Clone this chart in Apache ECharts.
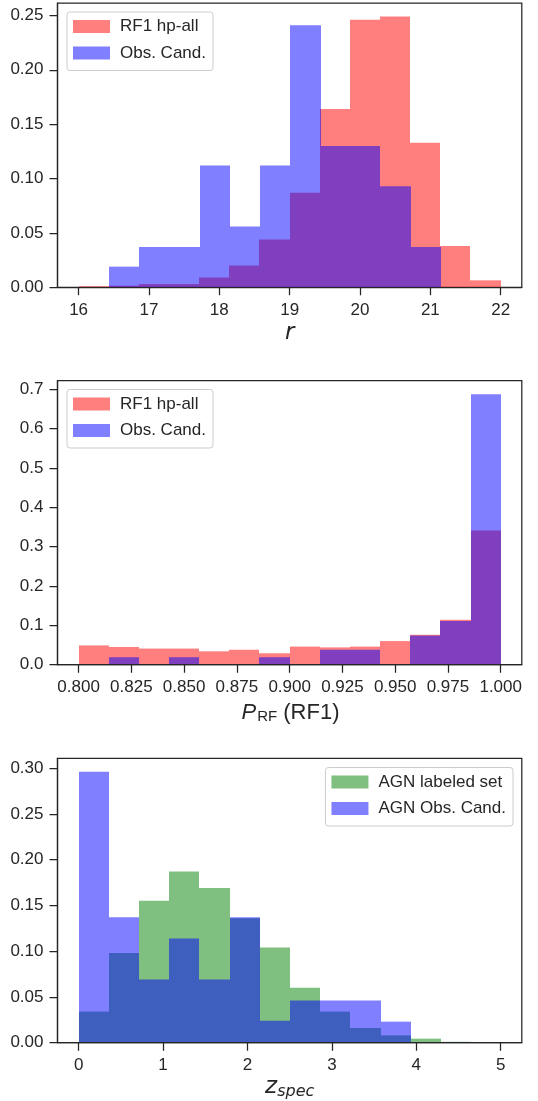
<!DOCTYPE html>
<html><head><meta charset="utf-8">
<script src="https://cdn.jsdelivr.net/npm/echarts@6/dist/echarts.min.js"></script>
<style>html,body{margin:0;padding:0;background:#fff}#c{width:538px;height:1101px}</style>
</head><body><div id="c"></div>
<script>
// ---------- Panel 1: r magnitude ----------
const rEdgesHp  = [16.00,16.43,16.86,17.29,17.71,18.14,18.57,19.00,19.43,19.86,20.29,20.71,21.14,21.57,22.00];
const rHp       = [0.001,0.0015,0.003,0.003,0.009,0.020,0.044,0.087,0.164,0.246,0.249,0.133,0.038,0.0064];
const rEdgesObs = [16.43,16.86,17.29,17.72,18.15,18.58,19.01,19.44,19.87,20.29,20.72,21.15];
const rObs      = [0.019,0.037,0.037,0.112,0.056,0.112,0.241,0.130,0.130,0.093,0.037];
const rTicksX = [16,17,18,19,20,21,22];
const rTicksY = [0,0.05,0.10,0.15,0.20,0.25];
const rRangeX = [15.7,22.3];
const rRangeY = [0,0.2614];

// ---------- Panel 2: P_RF ----------
const pEdgesHp  = [0.8000,0.8143,0.8286,0.8429,0.8571,0.8714,0.8857,0.9000,0.9143,0.9286,0.9429,0.9571,0.9714,0.9857,1.0000];
const pHp       = [0.049,0.045,0.041,0.041,0.034,0.038,0.029,0.046,0.044,0.046,0.060,0.076,0.114,0.341];
const pEdgesObs = [0.8143,0.8286,0.8429,0.8571,0.8714,0.8857,0.9000,0.9143,0.9286,0.9429,0.9571,0.9714,0.9857,1.0000];
const pObs      = [0.019,0,0.019,0,0,0.019,0,0.038,0.038,0,0.074,0.111,0.687];
const pTicksX = [0.800,0.825,0.850,0.875,0.900,0.925,0.950,0.975,1.000];
const pTicksY = [0,0.1,0.2,0.3,0.4,0.5,0.6,0.7];
const pRangeX = [0.79,1.01];
const pRangeY = [0,0.7213];

// ---------- Panel 3: z_spec ----------
const zEdgesLab = [0,0.358,0.715,1.073,1.431,1.788,2.146,2.504,2.862,3.219,3.577,3.935,4.292,4.650];
const zLab      = [0.034,0.098,0.155,0.187,0.169,0.136,0.104,0.060,0.034,0.016,0.008,0.0044,0.001];
const zEdgesObs = [0,0.358,0.715,1.073,1.431,1.788,2.146,2.504,2.862,3.219,3.577,3.935];
const zObs      = [0.296,0.137,0.069,0.114,0.069,0.137,0.024,0.046,0.046,0.046,0.023];
const zTicksX = [0,1,2,3,4,5];
const zTicksY = [0,0.05,0.10,0.15,0.20,0.25,0.30];
const zRangeX = [-0.25,5.25];
const zRangeY = [0,0.3108];

const INK = '#262626';
const FONT = "'Liberation Sans', Arial, sans-serif";
const RED = 'rgba(255,0,0,0.5)', BLUE = 'rgba(0,0,255,0.5)', GREEN = 'rgba(0,128,0,0.5)';

function hist(name, edges, values, color, gi) {
  const data = values.map((v, i) => [edges[i], edges[i + 1], v]);
  return {
    type: 'custom', name, xAxisIndex: gi, yAxisIndex: gi, z: 2,
    itemStyle: { color }, data, encode: { x: [0, 1], y: 2 },
    renderItem(params, api) {
      const a = api.coord([api.value(0), 0]);
      const b = api.coord([api.value(1), api.value(2)]);
      const x0 = Math.round(a[0]), x1 = Math.round(b[0]);
      return { type: 'rect', shape: { x: x0, y: b[1], width: x1 - x0, height: a[1] - b[1] },
               style: { fill: color } };
    }
  };
}
function xAx(gi, range, ticks, dec) {
  return { type: 'value', gridIndex: gi, min: range[0], max: range[1], z: 5,
    axisLine: { show: true, onZero: false, lineStyle: { color: INK, width: 1.25 } },
    axisTick: { show: true, customValues: ticks, length: 8, lineStyle: { color: INK, width: 1.25 } },
    axisLabel: { customValues: ticks, formatter: v => v.toFixed(dec), margin: 14.5,
      color: INK, fontSize: 17, fontFamily: FONT },
    splitLine: { show: false } };
}
function yAx(gi, range, ticks, dec) {
  return { type: 'value', gridIndex: gi, min: range[0], max: range[1], z: 5,
    axisLine: { show: true, onZero: false, lineStyle: { color: INK, width: 1.25 } },
    axisTick: { show: true, customValues: ticks, length: 8, lineStyle: { color: INK, width: 1.25 } },
    axisLabel: { customValues: ticks, formatter: v => v.toFixed(dec), margin: 14,
      color: INK, fontSize: 17, fontFamily: FONT },
    splitLine: { show: false } };
}
function leg(names, pos) {
  return Object.assign({
    data: names, orient: 'vertical', icon: 'rect', itemWidth: 37, itemHeight: 13, itemGap: 9.5,
    padding: [6, 7, 9, 6], backgroundColor: 'rgba(255,255,255,0.8)', borderColor: '#cccccc',
    borderWidth: 1, borderRadius: 3, selectedMode: false,
    textStyle: { fontSize: 17, lineHeight: 15, color: INK, fontFamily: FONT, padding: [0, 0, 0, 5] }
  }, pos);
}
const gridBase = { left: 57.5, width: 464.3, show: true, borderColor: INK, borderWidth: 1.25 };

const chart = echarts.init(document.getElementById('c'), null, { renderer: 'canvas' });
chart.setOption({
  animation: false,
  backgroundColor: '#ffffff',
  grid: [
    Object.assign({ top: 3, height: 284.3 }, gridBase),
    Object.assign({ top: 380.7, height: 284 }, gridBase),
    Object.assign({ top: 758.3, height: 284.4 }, gridBase)
  ],
  xAxis: [xAx(0, rRangeX, rTicksX, 0), xAx(1, pRangeX, pTicksX, 3), xAx(2, zRangeX, zTicksX, 0)],
  yAxis: [yAx(0, rRangeY, rTicksY, 2), yAx(1, pRangeY, pTicksY, 1), yAx(2, zRangeY, zTicksY, 2)],
  legend: [
    leg(['RF1 hp-all', 'Obs. Cand.'], { left: 67, top: 12 }),
    leg(['RF1 hp-all', 'Obs. Cand.'], { left: 67, top: 389.5 }),
    leg(['AGN labeled set', 'AGN Obs. Cand.'], { right: 25, top: 767.5 })
  ],
  series: [
    hist('RF1 hp-all', rEdgesHp, rHp, RED, 0),
    hist('Obs. Cand.', rEdgesObs, rObs, BLUE, 0),
    hist('RF1 hp-all', pEdgesHp, pHp, RED, 1),
    hist('Obs. Cand.', pEdgesObs, pObs, BLUE, 1),
    hist('AGN labeled set', zEdgesLab, zLab, GREEN, 2),
    hist('AGN Obs. Cand.', zEdgesObs, zObs, BLUE, 2)
  ],
  graphic: [
    { type: 'text', x: 289.7, y: 333.5, style: { text: 'r', align: 'center', verticalAlign: 'middle',
      font: "italic 23px 'DejaVu Sans'", fill: INK } },
    { type: 'text', x: 290.5, y: 712, style: {
      text: '{i|P}{s|RF}{n| (RF1)}', align: 'center', verticalAlign: 'middle', fill: INK,
      rich: {
        i: { fontStyle: 'italic', fontSize: 22, lineHeight: 21, fontFamily: FONT, verticalAlign: 'top', color: INK },
        s: { fontSize: 15, lineHeight: 15, fontFamily: FONT, padding: [8, 0, 0, 1], verticalAlign: 'top', color: INK },
        n: { fontSize: 22, lineHeight: 21, fontFamily: FONT, verticalAlign: 'top', color: INK }
      } } },
    { type: 'text', x: 289.7, y: 1087, style: {
      text: '{i|z}{s|spec}', align: 'center', verticalAlign: 'middle', fill: INK,
      rich: {
        i: { fontStyle: 'italic', fontSize: 23, lineHeight: 22, fontFamily: 'DejaVu Sans', verticalAlign: 'top', color: INK },
        s: { fontStyle: 'italic', fontSize: 16, lineHeight: 16, fontFamily: 'DejaVu Sans', padding: [8, 0, 0, 0], verticalAlign: 'top', color: INK }
      } } }
  ]
});
</script>
</body></html>
